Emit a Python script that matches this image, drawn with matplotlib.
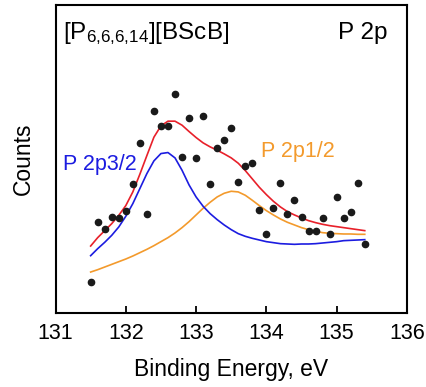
import numpy as np
import matplotlib.pyplot as plt

plt.rcParams['font.family'] = ['Liberation Sans', 'DejaVu Sans']
plt.rcParams['mathtext.fontset'] = 'custom'
plt.rcParams['mathtext.rm'] = 'Liberation Sans'
plt.rcParams['mathtext.default'] = 'regular'

# binding energy grid (eV)
energy = [131.5, 131.6, 131.7, 131.8, 131.9, 132.0, 132.1, 132.2, 132.3, 132.4,
          132.5, 132.6, 132.7, 132.8, 132.9, 133.0, 133.1, 133.2, 133.3, 133.4,
          133.5, 133.6, 133.7, 133.8, 133.9, 134.0, 134.1, 134.2, 134.3, 134.4,
          134.5, 134.6, 134.7, 134.8, 134.9, 135.0, 135.1, 135.2, 135.3, 135.4]

# measured counts (arb. units)
counts = [93, 273, 252, 287, 285, 305, 386, 511, 298, 605,
          560, 562, 656, 468, 586, 464, 592, 386, 496, 520,
          555, 393, 441, 450, 310, 238, 315, 390, 296, 340,
          288, 246, 245, 286, 238, 348, 285, 304, 389, 206]

# fitted envelope
fit_total = [201, 226, 247, 268, 293, 322, 363, 416, 472, 527,
             561, 575, 575, 563, 544, 526, 510, 498, 488, 477,
             465, 449, 427, 402, 377, 355, 335, 318, 304, 294,
             285, 277, 271, 266, 262, 259, 256, 253, 250, 247]

# P 2p3/2 component
fit_p32 = [172, 193, 212, 233, 258, 290, 328, 373, 418, 456,
           478, 481, 465, 428, 384, 348, 320, 298, 280, 264,
           250, 238, 230, 224, 219, 214, 211, 208, 207, 206,
           207, 207, 208, 210, 212, 214, 217, 218, 219, 220]

# P 2p1/2 component
fit_p12 = [123, 130, 138, 146, 154, 162, 171, 181, 191, 202,
           214, 226, 240, 256, 274, 294, 314, 332, 348, 359,
           365, 363, 353, 338, 322, 307, 294, 282, 272, 264,
           256, 250, 245, 241, 239, 238, 237, 237, 236, 236]

fig = plt.figure(figsize=(4.27, 3.87), dpi=100)
ax = fig.add_axes([0.130, 0.191, 0.823, 0.796])

ax.plot(energy, fit_p12, color='#f39a2c', lw=1.2, zorder=2)
ax.plot(energy, fit_p32, color='#1c1ce0', lw=1.2, zorder=2)
ax.plot(energy, fit_total, color='#e8202a', lw=1.2, zorder=3)
ax.plot(energy, counts, 'o', color='#1a1a1a', ms=4.5, mec='#1a1a1a', zorder=4)

ax.text(131.1, 428, 'P 2p3/2', color='#1c1ce0', fontsize=15.5)
ax.text(133.93, 468, 'P 2p1/2', color='#f39a2c', fontsize=15.5)
ax.text(131.1, 820, '[P$_{6{,}6{,}6{,}14}$][BScB]', fontsize=17.5)
ax.text(135.73, 820, 'P 2p', fontsize=17.5, ha='right')

ax.set_xlim(131, 136)
ax.set_ylim(0, 923)
ax.set_xticks([131, 132, 133, 134, 135, 136])
ax.set_yticks([])
ax.tick_params(axis='x', direction='in', length=5, width=1.3, labelsize=15.5, pad=7)
for sp in ax.spines.values():
    sp.set_linewidth(1.5)

ax.set_xlabel('Binding Energy, eV', fontsize=16.5, labelpad=10)
ax.set_ylabel('Counts', fontsize=16.5, labelpad=15)

fig.savefig('out.png', dpi=100)
